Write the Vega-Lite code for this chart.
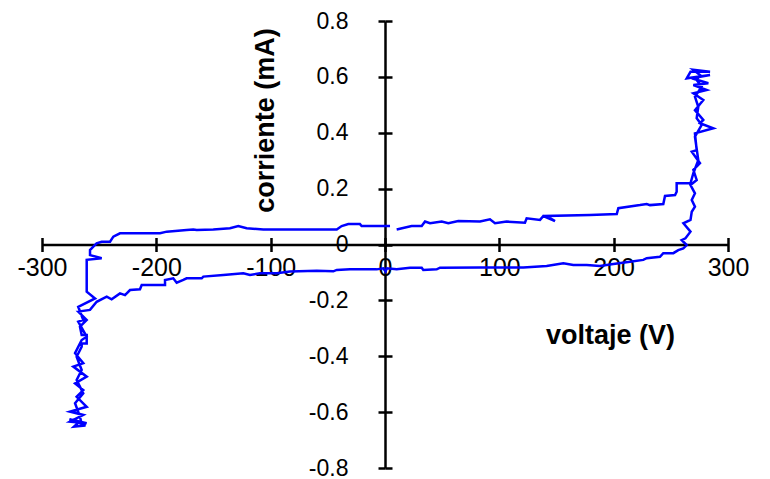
{
  "$schema": "https://vega.github.io/schema/vega-lite/v6.json",
  "width": 686,
  "height": 447,
  "autosize": "none",
  "padding": {"left": 42, "top": 21, "right": 42, "bottom": 11},
  "background": "white",
  "config": {"view": {"stroke": null}, "font": "Liberation Sans"},
  "data": {"values": [
    {"i":1,"x":4.4,"y":0.066},{"i":2,"x":-20.4,"y":0.066},{"i":3,"x":-21.9,"y":0.073},{"i":4,"x":-32.1,"y":0.073},{"i":5,"x":-37.9,"y":0.066},
    {"i":6,"x":-42.2,"y":0.054},{"i":7,"x":-106.4,"y":0.054},{"i":8,"x":-121,"y":0.058},{"i":9,"x":-128.3,"y":0.066},{"i":10,"x":-135.6,"y":0.058},
    {"i":11,"x":-150.2,"y":0.054},{"i":12,"x":-164.7,"y":0.052},{"i":13,"x":-167.7,"y":0.054},{"i":14,"x":-173.5,"y":0.052},{"i":15,"x":-190.9,"y":0.046},
    {"i":16,"x":-196.8,"y":0.040},{"i":17,"x":-231.8,"y":0.040},{"i":18,"x":-237.6,"y":0.028},{"i":19,"x":-240.5,"y":0.010},{"i":20,"x":-247.8,"y":0.010},
    {"i":21,"x":-252.2,"y":0.004},{"i":22,"x":-255.1,"y":-0.008},{"i":23,"x":-258,"y":-0.020},{"i":24,"x":-258,"y":-0.038},{"i":25,"x":-247.8,"y":-0.049},
    {"i":26,"x":-260.9,"y":-0.055},{"i":27,"x":-260.9,"y":-0.169},{"i":28,"x":-253.6,"y":-0.193},{"i":29,"x":-268.3,"y":-0.223},{"i":30,"x":-263.9,"y":-0.270},
    {"i":31,"x":-268.3,"y":-0.276},{"i":32,"x":-260.9,"y":-0.330},{"i":33,"x":-265.3,"y":-0.342},{"i":34,"x":-271.1,"y":-0.389},{"i":35,"x":-263.9,"y":-0.425},
    {"i":36,"x":-272.6,"y":-0.437},{"i":37,"x":-260.9,"y":-0.473},{"i":38,"x":-271.1,"y":-0.497},{"i":39,"x":-263.9,"y":-0.521},{"i":40,"x":-269.7,"y":-0.545},
    {"i":41,"x":-260.9,"y":-0.581},{"i":42,"x":-275.5,"y":-0.598},{"i":43,"x":-263.9,"y":-0.610},{"i":44,"x":-275.5,"y":-0.634},{"i":45,"x":-260.9,"y":-0.640},
    {"i":46,"x":-276,"y":-0.625},{"i":47,"x":-262,"y":-0.648},{"i":48,"x":-272,"y":-0.652},{"i":49,"x":-266,"y":-0.630},{"i":50,"x":-266.8,"y":-0.616},
    {"i":51,"x":-271.1,"y":-0.568},{"i":52,"x":-263.9,"y":-0.533},{"i":53,"x":-269.7,"y":-0.485},{"i":54,"x":-265.3,"y":-0.449},{"i":55,"x":-269.7,"y":-0.402},
    {"i":56,"x":-265.3,"y":-0.366},{"i":57,"x":-265.3,"y":-0.354},{"i":58,"x":-260.9,"y":-0.354},{"i":59,"x":-260.9,"y":-0.324},{"i":60,"x":-265.3,"y":-0.324},
    {"i":61,"x":-266.8,"y":-0.294},{"i":62,"x":-260.9,"y":-0.270},{"i":63,"x":-268.3,"y":-0.240},{"i":64,"x":-258,"y":-0.234},{"i":65,"x":-252.2,"y":-0.205},
    {"i":66,"x":-243.4,"y":-0.187},{"i":67,"x":-239.1,"y":-0.196},{"i":68,"x":-231.8,"y":-0.175},{"i":69,"x":-227.4,"y":-0.181},{"i":70,"x":-223,"y":-0.163},
    {"i":71,"x":-214.3,"y":-0.160},{"i":72,"x":-212.8,"y":-0.145},{"i":73,"x":-192.4,"y":-0.145},{"i":74,"x":-192.4,"y":-0.127},{"i":75,"x":-185.2,"y":-0.121},
    {"i":76,"x":-182.2,"y":-0.137},{"i":77,"x":-176.4,"y":-0.127},{"i":78,"x":-173.5,"y":-0.121},{"i":79,"x":-160.3,"y":-0.121},{"i":80,"x":-158.9,"y":-0.115},
    {"i":81,"x":-141.4,"y":-0.109},{"i":82,"x":-123.9,"y":-0.103},{"i":83,"x":-118.1,"y":-0.109},{"i":84,"x":-109.3,"y":-0.103},{"i":85,"x":-94.7,"y":-0.103},
    {"i":86,"x":-83.1,"y":-0.097},{"i":87,"x":-59.7,"y":-0.094},{"i":88,"x":-45.2,"y":-0.096},{"i":89,"x":-42.2,"y":-0.091},{"i":90,"x":-30.6,"y":-0.089},
    {"i":91,"x":-7.3,"y":-0.089},{"i":92,"x":-1.5,"y":-0.085},{"i":93,"x":0.5,"y":-0.097},{"i":94,"x":1.5,"y":-0.085},{"i":95,"x":10.2,"y":-0.089},
    {"i":96,"x":21.9,"y":-0.083},{"i":97,"x":32.1,"y":-0.083},{"i":98,"x":33.5,"y":-0.091},{"i":99,"x":45.2,"y":-0.089},{"i":100,"x":48.1,"y":-0.083},
    {"i":101,"x":83.1,"y":-0.082},{"i":102,"x":121,"y":-0.082},{"i":103,"x":141.4,"y":-0.077},{"i":104,"x":156,"y":-0.067},{"i":105,"x":164.7,"y":-0.073},
    {"i":106,"x":176.4,"y":-0.073},{"i":107,"x":188,"y":-0.077},{"i":108,"x":199.7,"y":-0.070},{"i":109,"x":214.3,"y":-0.062},{"i":110,"x":225.9,"y":-0.055},
    {"i":111,"x":228.9,"y":-0.049},{"i":112,"x":240.5,"y":-0.044},{"i":113,"x":243.4,"y":-0.031},{"i":114,"x":252.2,"y":-0.031},{"i":115,"x":256.5,"y":-0.020},
    {"i":116,"x":260.9,"y":-0.014},{"i":117,"x":263.9,"y":-0.002},{"i":118,"x":259.5,"y":0.016},{"i":119,"x":262.8,"y":0.022},{"i":120,"x":267.2,"y":0.046},
    {"i":121,"x":261,"y":0.076},{"i":122,"x":267.2,"y":0.088},{"i":123,"x":268.3,"y":0.117},{"i":124,"x":271.1,"y":0.135},{"i":125,"x":268.3,"y":0.159},
    {"i":126,"x":271.1,"y":0.183},{"i":127,"x":267.2,"y":0.213},{"i":128,"x":272.6,"y":0.231},{"i":129,"x":269.7,"y":0.267},{"i":130,"x":275.5,"y":0.291},
    {"i":131,"x":268.3,"y":0.332},{"i":132,"x":272.6,"y":0.338},{"i":133,"x":271.1,"y":0.398},{"i":134,"x":287.1,"y":0.416},{"i":135,"x":275.5,"y":0.434},
    {"i":136,"x":278.4,"y":0.446},{"i":137,"x":271.1,"y":0.481},{"i":138,"x":278.4,"y":0.517},{"i":139,"x":269.7,"y":0.541},{"i":140,"x":281.4,"y":0.553},
    {"i":141,"x":269.7,"y":0.571},{"i":142,"x":282.8,"y":0.577},{"i":143,"x":268.3,"y":0.595},{"i":144,"x":284.3,"y":0.607},{"i":145,"x":263.9,"y":0.595},
    {"i":146,"x":267.2,"y":0.618},{"i":147,"x":284.3,"y":0.618},{"i":148,"x":269.7,"y":0.625},{"i":149,"x":275.5,"y":0.607},{"i":150,"x":272.6,"y":0.589},
    {"i":151,"x":277,"y":0.565},{"i":152,"x":271.1,"y":0.529},{"i":153,"x":274,"y":0.493},{"i":154,"x":272.6,"y":0.452},{"i":155,"x":277,"y":0.428},
    {"i":156,"x":271.1,"y":0.386},{"i":157,"x":274,"y":0.302},{"i":158,"x":269.7,"y":0.255},{"i":159,"x":267.2,"y":0.219},{"i":160,"x":255.1,"y":0.219},
    {"i":161,"x":255.1,"y":0.189},{"i":162,"x":253.7,"y":0.177},{"i":163,"x":244.9,"y":0.174},{"i":164,"x":243.4,"y":0.145},{"i":165,"x":231.8,"y":0.141},
    {"i":166,"x":228.9,"y":0.145},{"i":167,"x":223,"y":0.141},{"i":168,"x":204.1,"y":0.130},{"i":169,"x":202.7,"y":0.109},{"i":170,"x":179.3,"y":0.106},
    {"i":171,"x":141.4,"y":0.102},{"i":172,"x":148.7,"y":0.084},{"i":173,"x":138.5,"y":0.102},{"i":174,"x":135.6,"y":0.088},{"i":175,"x":123.9,"y":0.094},
    {"i":176,"x":122.4,"y":0.078},{"i":177,"x":106.4,"y":0.082},{"i":178,"x":96.2,"y":0.076},{"i":179,"x":91.8,"y":0.090},{"i":180,"x":83.1,"y":0.082},
    {"i":181,"x":64.1,"y":0.084},{"i":182,"x":55.4,"y":0.076},{"i":183,"x":49.6,"y":0.082},{"i":184,"x":39.4,"y":0.076},{"i":185,"x":35,"y":0.082},
    {"i":186,"x":32.1,"y":0.066},{"i":187,"x":23.3,"y":0.066},{"i":188,"x":10.2,"y":0.054}
  ]},
  "layer": [
    {
      "mark": {"type": "line", "color": "#0000FF", "strokeWidth": 2.5, "clip": false},
      "encoding": {
        "x": {"field": "x", "type": "quantitative",
          "scale": {"domain": [-300, 300], "nice": false, "zero": false},
          "axis": {"orient": "bottom", "offset": -223.5, "values": [-300, -200, -100, 0, 100, 200, 300],
            "labelExpr": "toString(datum.value)",
            "tickSize": 7, "tickWidth": 2.5, "tickColor": "black", "domainColor": "black", "domainWidth": 2.5,
            "labelFont": "Liberation Sans", "labelFontSize": 25, "labelColor": "black", "labelPadding": 4,
            "labelFlush": false, "labelOverlap": false, "labelBound": false, "grid": false,
            "title": "voltaje (V)", "titleFont": "Liberation Sans", "titleFontSize": 27, "titleFontWeight": "bold", "titleColor": "black",
            "titleX": 568, "titleY": 90.5, "titleAlign": "center", "titleBaseline": "middle", "titleAngle": 0}},
        "y": {"field": "y", "type": "quantitative",
          "scale": {"domain": [-0.8, 0.8], "nice": false, "zero": false},
          "axis": {"orient": "left", "offset": -343, "values": [-0.8, -0.6, -0.4, -0.2, 0, 0.2, 0.4, 0.6, 0.8],
            "labelExpr": "toString(datum.value)",
            "tickSize": 7, "tickWidth": 2.5, "tickColor": "black", "domainColor": "black", "domainWidth": 2.5,
            "labelFont": "Liberation Sans", "labelFontSize": 23, "labelColor": "black", "labelPadding": 30,
            "labelFlush": false, "labelOverlap": false, "labelBound": false, "grid": false,
            "title": "corriente (mA)", "titleFont": "Liberation Sans", "titleFontSize": 27, "titleFontWeight": "bold", "titleColor": "black",
            "titleX": -120, "titleY": 99, "titleAlign": "center", "titleBaseline": "middle", "titleAngle": -90}},
        "order": {"field": "i", "type": "quantitative"}
      }
    },
    {
      "mark": {"type": "line", "strokeOpacity": 0, "clip": false},
      "encoding": {
        "x": {"field": "x", "type": "quantitative",
          "axis": {"orient": "top", "offset": -223.5, "values": [-300, -200, -100, 0, 100, 200, 300],
            "tickSize": 7, "tickWidth": 2.5, "tickColor": "black", "domain": false, "labels": false, "grid": false, "title": null}},
        "y": {"field": "y", "type": "quantitative",
          "axis": {"orient": "right", "offset": -343, "values": [-0.8, -0.6, -0.4, -0.2, 0, 0.2, 0.4, 0.6, 0.8],
            "tickSize": 7, "tickWidth": 2.5, "tickColor": "black", "domain": false, "labels": false, "grid": false, "title": null}},
        "order": {"field": "i", "type": "quantitative"}
      }
    }
  ],
  "resolve": {"axis": {"x": "independent", "y": "independent"}}
}
